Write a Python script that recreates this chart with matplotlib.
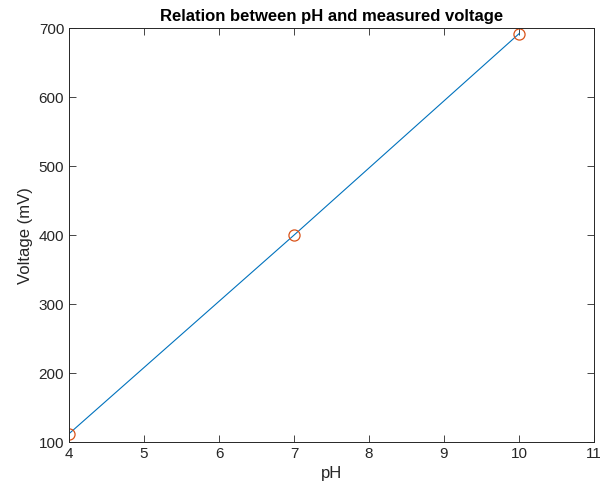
import matplotlib
matplotlib.use("Agg")
import matplotlib.pyplot as plt

ph = [4, 7, 10]
voltage = [112, 400, 692]
xticks = [4, 5, 6, 7, 8, 9, 10, 11]
yticks = [100, 200, 300, 400, 500, 600, 700]

plt.rcParams['font.family'] = ['Liberation Sans', 'DejaVu Sans']
fig = plt.figure(figsize=(6, 4.95), dpi=100)
ax = fig.add_axes([0.115, 0.107, 0.875, 0.836])
ax.plot(ph, voltage, color='#0072BD', lw=0.8)
ax.plot(ph, voltage, 'o', mfc='none', mec='#D95319', ms=8, mew=0.9)
ax.set_xlim(4, 11)
ax.set_ylim(100, 700)
ax.set_xticks(xticks)
ax.set_yticks(yticks)
gray = '#262626'
ax.tick_params(direction='in', length=5, width=0.6, colors=gray, labelsize=11, top=True, right=True,
               labeltop=False, labelright=False)
for s in ax.spines.values():
    s.set_color(gray)
    s.set_linewidth(0.7)
ax.set_xlabel('pH', fontsize=12, color=gray)
ax.set_ylabel('Voltage (mV)', fontsize=12, color=gray)
ax.set_title('Relation between pH and measured voltage', fontsize=12, fontweight='bold', pad=5)
fig.savefig('out.png', dpi=100)
